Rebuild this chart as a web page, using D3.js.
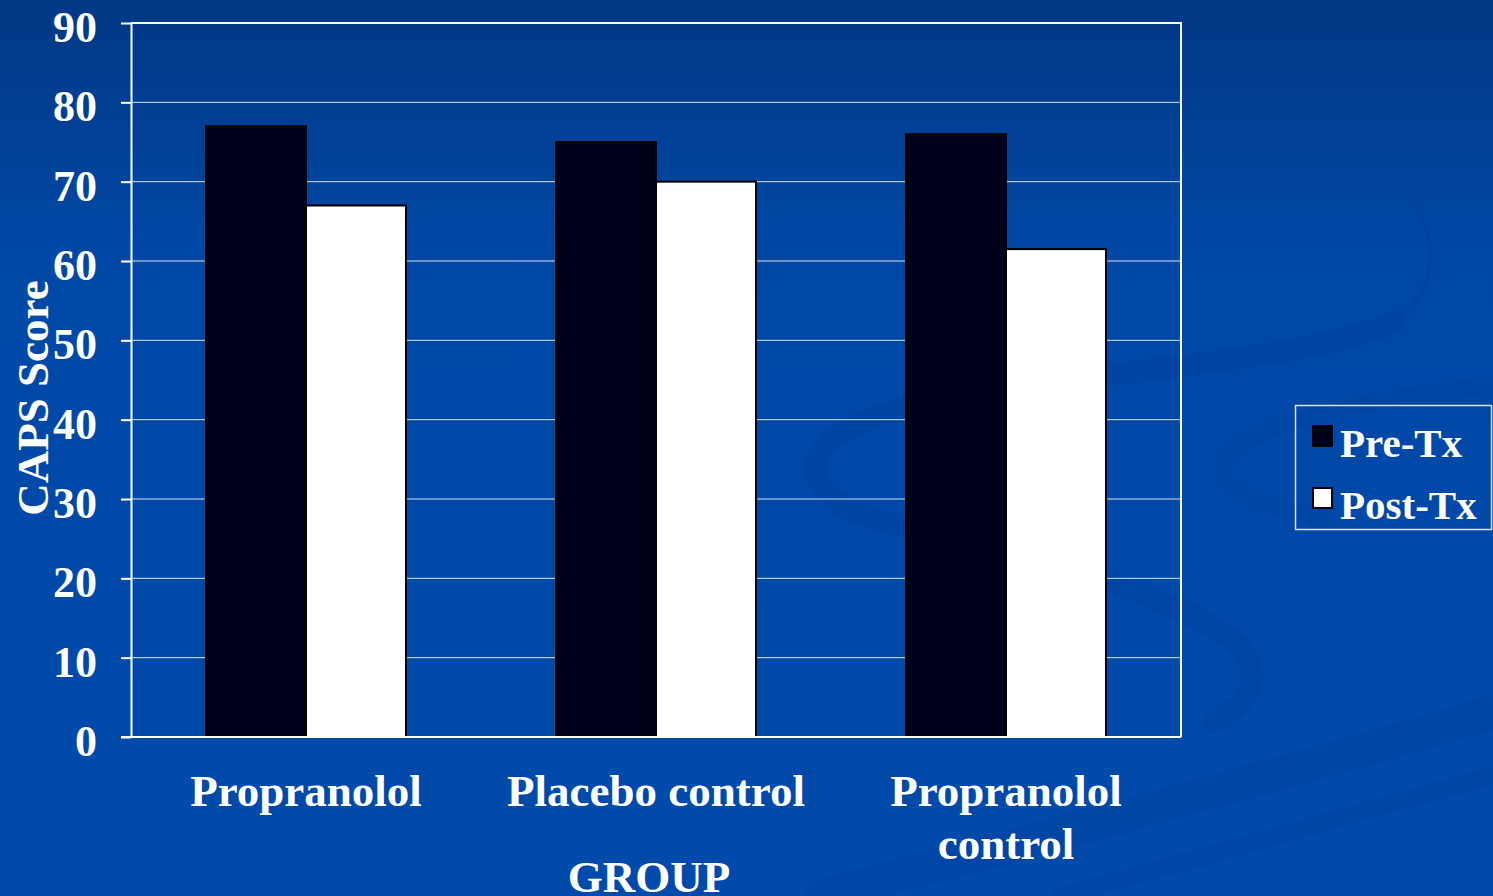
<!DOCTYPE html>
<html>
<head>
<meta charset="utf-8">
<script src="https://cdn.jsdelivr.net/npm/d3@7"></script>
<style>
  html, body { margin: 0; padding: 0; background: #004aab; }
  svg { display: block; }
  text { font-family: "Liberation Serif", "Times New Roman", serif; font-weight: bold; fill: #ffffff; }
</style>
</head>
<body>
<svg id="chart" width="1493" height="896"></svg>
<script>
// CAPS scores before and after treatment, by group
const categories = ["Propranolol", "Placebo control", "Propranolol control"];
const categoryLines = [["Propranolol"], ["Placebo control"], ["Propranolol", "control"]];
const seriesNames = ["Pre-Tx", "Post-Tx"];
const preTx = [77, 75, 76];
const postTx = [67, 70, 61.5];
const yTicks = [0, 10, 20, 30, 40, 50, 60, 70, 80, 90];

const W = 1493, H = 896;
const plot = { left: 131, right: 1181, top: 23, bottom: 737 };
const svg = d3.select("#chart");

// slide background: vertical blue gradient with soft swirl ribbons
const defs = svg.append("defs");
const grad = defs.append("linearGradient").attr("id", "bg").attr("x1", 0).attr("y1", 0).attr("x2", 0).attr("y2", 1);
grad.append("stop").attr("offset", "0%").attr("stop-color", "#023884");
grad.append("stop").attr("offset", "28%").attr("stop-color", "#0048a6");
grad.append("stop").attr("offset", "100%").attr("stop-color", "#004aab");
svg.append("rect").attr("width", W).attr("height", H).attr("fill", "url(#bg)");

const swirl = svg.append("g").attr("fill", "none").attr("stroke", "#00409c").attr("stroke-linecap", "round");
swirl.append("path").attr("stroke-width", 5).attr("opacity", 0.45)
  .attr("d", "M1405,192 C1440,235 1440,290 1395,322");
swirl.append("path").attr("stroke-width", 22).attr("opacity", 0.35)
  .attr("d", "M1395,322 C1280,370 1020,372 880,415 C790,445 800,500 880,520 C990,548 1120,575 1210,625 C1265,655 1265,695 1215,722");
swirl.append("path").attr("stroke-width", 16).attr("opacity", 0.3)
  .attr("d", "M1493,385 C1380,398 1260,420 1228,455 C1205,482 1250,505 1330,520");
swirl.append("path").attr("stroke-width", 34).attr("opacity", 0.3)
  .attr("d", "M820,896 C1000,850 1300,770 1493,712");
swirl.append("path").attr("stroke-width", 18).attr("opacity", 0.3)
  .attr("d", "M1060,896 C1250,845 1400,800 1493,776");

// scales
const x0 = d3.scaleBand().domain(categories).range([plot.left, plot.right])
  .paddingInner(0.4286).paddingOuter(0.2143);
const x1 = d3.scaleBand().domain(seriesNames).range([0, x0.bandwidth()]);
const y = d3.scaleLinear().domain([0, 90]).range([plot.bottom, plot.top]);
const fills = { "Pre-Tx": "#00001a", "Post-Tx": "#ffffff" };

// gridlines
svg.append("g").selectAll("line").data(yTicks.filter(d => d > 0 && d < 90)).join("line")
  .attr("x1", plot.left).attr("x2", plot.right)
  .attr("y1", d => y(d)).attr("y2", d => y(d))
  .attr("stroke", "#ffffff").attr("stroke-width", 1).attr("opacity", 0.85);

// bars
const rows = categories.map((c, i) => ({ cat: c, values: [
  { s: "Pre-Tx", v: preTx[i] }, { s: "Post-Tx", v: postTx[i] } ] }));
svg.append("g").selectAll("g").data(rows).join("g")
  .attr("transform", d => `translate(${x0(d.cat)},0)`)
  .selectAll("rect").data(d => d.values).join("rect")
  .attr("x", d => x1(d.s)).attr("width", x1.bandwidth())
  .attr("y", d => y(d.v)).attr("height", d => y(0) - y(d.v))
  .attr("fill", d => fills[d.s]).attr("stroke", "#000000").attr("stroke-width", 2);

// frame (top and right)
svg.append("path").attr("fill", "none").attr("stroke", "#ffffff").attr("stroke-width", 2)
  .attr("d", `M${plot.left},${plot.top}H${plot.right}V${plot.bottom}`);

// y axis
const yAxis = svg.append("g").attr("transform", `translate(${plot.left},0)`)
  .call(d3.axisLeft(y).tickValues(yTicks).tickSize(10).tickPadding(24).tickSizeOuter(0));
yAxis.select(".domain").attr("stroke", "#ffffff").attr("stroke-width", 2);
yAxis.selectAll(".tick line").attr("stroke", "#ffffff").attr("stroke-width", 2);
yAxis.selectAll(".tick text").attr("fill", "#ffffff").attr("dy", "0.42em")
  .style("font-size", "44px").style("font-family", "'Liberation Serif', 'Times New Roman', serif").style("font-weight", "bold");

// x axis baseline
svg.append("line").attr("x1", plot.left - 10).attr("x2", plot.right)
  .attr("y1", plot.bottom).attr("y2", plot.bottom)
  .attr("stroke", "#ffffff").attr("stroke-width", 2);

// category labels
const catLabels = svg.append("g").selectAll("text").data(categories).join("text")
  .attr("text-anchor", "middle").style("font-size", "45px")
  .attr("x", d => x0(d) + x0.bandwidth() / 2).attr("y", 806);
catLabels.each(function(d, i) {
  d3.select(this).selectAll("tspan").data(categoryLines[i]).join("tspan")
    .attr("x", x0(d) + x0.bandwidth() / 2).attr("dy", (t, j) => j === 0 ? 0 : 53).text(t => t);
});

// axis titles
svg.append("text").attr("x", 649).attr("y", 892).attr("text-anchor", "middle")
  .style("font-size", "45px").text("GROUP");
svg.append("text").attr("transform", "translate(48,398) rotate(-90)").attr("text-anchor", "middle")
  .style("font-size", "45px").text("CAPS Score");

// legend
const lg = svg.append("g");
lg.append("rect").attr("x", 1295.5).attr("y", 405.5).attr("width", 196).attr("height", 124)
  .attr("fill", "none").attr("stroke", "#d8e2f4").attr("stroke-width", 1.5);
const items = lg.selectAll("g").data(seriesNames).join("g")
  .attr("transform", (d, i) => `translate(1313,${426 + i * 62})`);
items.append("rect").attr("width", 19).attr("height", 20)
  .attr("fill", d => fills[d]).attr("stroke", "#000000").attr("stroke-width", 2);
items.append("text").attr("x", 27).attr("y", 31).style("font-size", "41px").text(d => d);
</script>
</body>
</html>
